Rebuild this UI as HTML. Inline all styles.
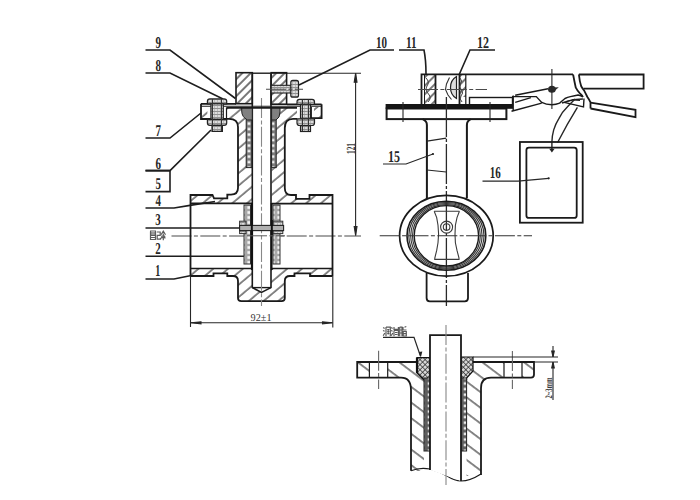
<!DOCTYPE html>
<html><head><meta charset="utf-8"><title>Valve drawing</title>
<style>
html,body{margin:0;padding:0;background:#fff;width:700px;height:500px;overflow:hidden}
svg{display:block}
text{font-family:"Liberation Serif",serif;font-weight:bold;fill:#262626;text-rendering:geometricPrecision}
</style></head><body>
<svg width="700" height="500" viewBox="0 0 700 500">
<defs>
 <!-- "/" hatch fine (gland blocks) -->
 <pattern id="h1" patternUnits="userSpaceOnUse" width="6" height="6" patternTransform="rotate(45)"><line x1="1" y1="0" x2="1" y2="6" stroke="#262626" stroke-width="1.25"/></pattern>
 <!-- "/" hatch wider (body) -->
 <pattern id="h2" patternUnits="userSpaceOnUse" width="9.5" height="9.5" patternTransform="rotate(50)"><line x1="1" y1="0" x2="1" y2="9.5" stroke="#262626" stroke-width="1.1"/></pattern>
 <!-- "\" hatch wide (detail view) -->
 <pattern id="hd" patternUnits="userSpaceOnUse" width="12.5" height="12.5" patternTransform="rotate(-53)"><line x1="1" y1="0" x2="1" y2="12.5" stroke="#262626" stroke-width="1.1"/></pattern>
 <pattern id="pk" patternUnits="userSpaceOnUse" width="6" height="5.5"><rect width="6" height="5.5" fill="#7a7a7a"/><rect x="1.6" y="1.3" width="2.8" height="2.6" fill="#f0f0f0"/></pattern>
 <pattern id="xh" patternUnits="userSpaceOnUse" width="3.6" height="3.6" patternTransform="rotate(45)"><rect width="3.6" height="3.6" fill="#d8d8d8"/><line x1="0" y1="0" x2="0" y2="3.6" stroke="#2a2a2a" stroke-width="1.4"/><line x1="0" y1="0" x2="3.6" y2="0" stroke="#2a2a2a" stroke-width="1.4"/></pattern>
 <pattern id="pk3" patternUnits="userSpaceOnUse" width="6" height="5"><rect width="6" height="5" fill="#a8a8a8"/><rect x="1.4" y="1.2" width="3.2" height="2.6" fill="#f4f4f4"/></pattern>
 <pattern id="pk2" patternUnits="userSpaceOnUse" width="6" height="5.6"><rect width="6" height="5.6" fill="#5e5e5e"/><rect x="1.7" y="1.4" width="2.6" height="2.6" fill="#eaeaea"/></pattern>
 <pattern id="bolt" patternUnits="userSpaceOnUse" width="3" height="3"><rect width="3" height="3" fill="#dcdcdc"/><line x1="0" y1="0.5" x2="3" y2="0.5" stroke="#707070" stroke-width="0.7"/><line x1="1.5" y1="0" x2="1.5" y2="3" stroke="#999" stroke-width="0.5"/></pattern>
</defs>

<!-- ================= LEFT VIEW: LABELS ================= -->
<g font-size="16.5">
 <text x="155.5" y="48.2" textLength="5.5" lengthAdjust="spacingAndGlyphs">9</text>
 <text x="155.5" y="71.4" textLength="5.5" lengthAdjust="spacingAndGlyphs">8</text>
 <text x="155.5" y="136.1" textLength="5.5" lengthAdjust="spacingAndGlyphs">7</text>
 <text x="155.5" y="168.8" textLength="5.5" lengthAdjust="spacingAndGlyphs">6</text>
 <text x="155.5" y="188.9" textLength="5.5" lengthAdjust="spacingAndGlyphs">5</text>
 <text x="155.5" y="205.8" textLength="5.5" lengthAdjust="spacingAndGlyphs">4</text>
 <text x="155.3" y="224.9" textLength="5.5" lengthAdjust="spacingAndGlyphs">3</text>
 <text x="155.3" y="253.8" textLength="5.5" lengthAdjust="spacingAndGlyphs">2</text>
 <text x="155.3" y="276.3" textLength="5" lengthAdjust="spacingAndGlyphs">1</text>
</g>
<!-- chinese-ish label -->
<g fill="none" stroke="#5c5c5c" stroke-width="1.2">
 <path d="M150 231H156M150.5 231.5V239.5H155.5V231.5M152 232V235.5M154 232V235.5M150.5 235.5H155.5M150.5 237.5H155.5"/>
 <path d="M156.8 232H160.2V235.3H157.2V239.2H160.5V237.8"/>
 <path d="M161 234.8L163.3 231.2L165.5 234.8M161.5 236H165M163.3 233.5V240.2M161.3 237.7H165.3M162 235.5L161.5 238.5M164.5 235.5L165 238.5"/>
</g>
<g fill="none" stroke-width="1.6" stroke="#1e1e1e">
 <path d="M145.5 50H170L235.5 98.5"/>
 <path d="M145.5 73H170L223 99"/>
 <path d="M145.5 138H170L201 113"/>
 <path d="M145.5 170.6H170L211 130"/>
 <path d="M145.5 170.6H170V191.6H145.5"/>
 <path d="M145.5 208H174L190 205.4L215 201.5"/>
 <path d="M145.5 228H241"/>
 <path d="M145.5 256.2H244"/>
 <path d="M145.5 279H174L190 275.7"/>
</g>
<path fill="none" stroke="#4a4a4a" stroke-width="1.1" stroke-dasharray="20 2.4 4 2.4" d="M171.5 236H361"/>

<!-- ================= LEFT VIEW: BODY ================= -->
<!-- hatched solid regions -->
<path fill="url(#h2)" stroke="none" d="M190.5 195H212.5L214 198.3H227.3V194.6H231Q238 194.6 238 188V127Q238 118.8 229 118.8H226.5V107.5H252.3V203.4H190.5Z"/>
<path fill="url(#h2)" stroke="none" d="M332.5 195H309.5V198.8H296V195H291Q284.8 195 284.8 188V128Q284.8 118.8 293 118.8H297V107.5H271.6V203.6H332.5Z"/>
<path fill="url(#h2)" stroke="none" d="M190.5 268.6H252.3V287.6L261.5 292.4L271 287.6V268.6H332.5V276H310V273.4H294.5V276H290Q284.8 276 284.8 281V298Q284.8 301.2 281.5 301.2H241.3Q238 301.2 238 298V281Q238 276 233 276H227.3V273.4H213.5V276H190.5Z"/>
<path fill="url(#h2)" stroke="none" d="M201.5 107H207.4V118.5H201.5ZM314 107H321V117.7H314Z"/>

<!-- outlines pipe/body -->
<g fill="none" stroke="#1a1a1a" stroke-width="1.8">
 <path d="M190.5 276V195H212.5L214 198.3H227.3V194.6H231Q238 194.6 238 188V127Q238 118.8 229 118.8H226.5"/>
 <path d="M332.5 276V195H309.5V198.8H296V195H291Q284.8 195 284.8 188V128Q284.8 118.8 293 118.8H297"/>
 <path d="M190.5 276H213.5V273.4H227.3V276H233Q238 276 238 281V298Q238 301.2 241.3 301.2H281.5Q284.8 301.2 284.8 298V281Q284.8 276 290 276H294.5V273.4H310V276H332.5"/>
 <path d="M190.5 203.4H252M271.6 203.6H332.5" stroke-width="1.7"/>
 <path d="M190.5 268.6H252M271.6 268.6H332.5" stroke-width="1.5"/>
</g>
<!-- extension + dimension lines -->
<g fill="none" stroke="#262626" stroke-width="1.1">
 <path d="M190.5 276V327M332.8 276V327.6"/>
 <path d="M191 322.8H332.5"/>
 <path d="M191 322.8l10 -1v2z M332.5 322.8l-10 -1v2z" fill="#222"/>
 <path d="M252 73.3H361"/>
 <path d="M355.6 73.3V235.5"/>
 <path d="M355.6 73.3l-1.4 9h2.8z M355.6 235.5l-1.4 -9h2.8z" fill="#222"/>
</g>
<text font-size="12.5" transform="translate(354.6,154) rotate(-90)" textLength="11" lengthAdjust="spacingAndGlyphs" style="fill:#3a3a3a">121</text>
<text x="250.6" y="321.4" font-size="10.5" textLength="21" lengthAdjust="spacingAndGlyphs" style="font-weight:normal;fill:#333">92±1</text>

<!-- stem -->
<path fill="#fff" stroke="#1a1a1a" d="M252.3 73.3V287.6L261.5 292.4L271 287.6V73.3" stroke-width="1.6"/>
<path d="M252.3 287.6H271" stroke="#1a1a1a" stroke-width="1.4"/>
<path fill="none" stroke-dasharray="20 2.4 4 2.4" d="M261.5 98V306" stroke="#888" stroke-width="1.1"/>

<path d="M252 73.3H271.5" stroke="#2a2a2a" stroke-width="1.3"/>
<!-- packing columns in neck -->
<rect fill="url(#pk)" stroke="#222" stroke-width="1" x="246.2" y="116" width="5.6" height="51.6"/>
<rect fill="url(#pk)" stroke="#222" stroke-width="1" x="271.6" y="116" width="4.6" height="51.6"/>
<!-- seals item 8 -->
<path d="M241.7 107.5H252.3V120H247.5Q241.7 117 241.7 111Z" fill="#808080" stroke="#222" stroke-width="1"/>
<path d="M271.6 107.5H280V112Q280 118 276 120H271.6Z" fill="#808080" stroke="#222" stroke-width="1"/>
<!-- disc seat columns in bore -->
<rect fill="url(#pk3)" stroke="#333" stroke-width="1" x="244" y="205" width="6.5" height="59"/>
<rect fill="url(#pk3)" stroke="#333" stroke-width="1" x="273" y="205" width="7" height="59"/>
<path d="M251.8 203V270M271.6 203V270" stroke="#111" stroke-width="1.8"/>

<!-- pin item 3 -->
<rect x="239.6" y="221.2" width="6.4" height="12.4" fill="url(#bolt)" stroke="#333" stroke-width="1"/>
<rect x="273.2" y="221.2" width="9.6" height="12.4" fill="url(#bolt)" stroke="#333" stroke-width="1"/>
<rect x="239.6" y="225.4" width="44" height="5.2" fill="#b0b0b0" stroke="#222" stroke-width="1.1"/>
<path d="M251.8 220V236M271.8 220V236" stroke="#111" stroke-width="2"/>
<path fill="none" stroke="#5a5a5a" stroke-width="1" stroke-dasharray="20 2.4 4 2.4" stroke-dashoffset="-2" d="M245 235.8H285"/>

<!-- flange / gland plate -->
<g fill="none" stroke="#1a1a1a" stroke-width="1.8">
 <path d="M201 103.8H236M287 104.3H321.6" />
 <path d="M201 103.8V119H226.5M321.6 104.3V118.2H311V107" />
 <path d="M226.5 107.5V119" stroke-width="1.2"/>
 <path d="M201 106.2H321.6" stroke-width="1.1"/>
 <path d="M226.5 107.8H297" stroke-width="1.7"/>
</g>
<!-- gland blocks -->
<rect x="236" y="72.7" width="16.3" height="31" fill="url(#h1)" stroke="#1a1a1a" stroke-width="1.6"/>
<rect x="271.2" y="72.7" width="15.4" height="31.5" fill="url(#h1)" stroke="#1a1a1a" stroke-width="1.6"/>
<!-- screw item 10 -->
<rect x="271.2" y="85.3" width="20.3" height="7.7" fill="url(#bolt)" stroke="#222" stroke-width="1.1"/>
<rect x="290.8" y="80.4" width="7.7" height="16.8" rx="2" fill="url(#bolt)" stroke="#222" stroke-width="1.2"/>
<path fill="none" stroke="#4a4a4a" stroke-width="1.1" stroke-dasharray="20 2.4 4 2.4" d="M266 89.2H303"/>

<!-- bolts -->
<g stroke="#222" stroke-width="1.2" fill="url(#bolt)">
 <path d="M207.4 103.8V101.2Q207.4 98.9 210 98.9H224Q226.7 98.9 226.7 101.2V103.8Z"/>
 <rect x="210.9" y="103.8" width="12.4" height="15.6"/>
 <path d="M207.4 119.4H226.7V123Q226.7 125.4 224 125.4H210Q207.4 125.4 207.4 123Z"/>
 <rect x="212" y="125.4" width="10.4" height="6"/>
 <path d="M297 104.3V101.8Q297 99.3 299.5 99.3H312Q314.5 99.3 314.5 101.8V104.3Z"/>
 <rect x="300.5" y="104.3" width="10" height="14.5"/>
 <path d="M297 118.8H314.5V123Q314.5 125.5 312 125.5H299.5Q297 125.5 297 123Z"/>
 <rect x="300.5" y="125.5" width="10" height="6"/>
</g>
<path d="M212.5 99V131M221.5 99V131M302.5 99.5V131M308.5 99.5V131" stroke="#333" stroke-width="1"/>

<!-- label 10 -->
<text x="376" y="48.4" font-size="16.5" textLength="11" lengthAdjust="spacingAndGlyphs">10</text>
<path fill="none" stroke-width="1.6" stroke="#1e1e1e" d="M394 50H370L299 85"/>

<!-- ================= RIGHT VIEW ================= -->
<text x="406" y="48.4" font-size="16.5" textLength="10.5" lengthAdjust="spacingAndGlyphs">11</text>
<text x="477" y="48.4" font-size="16.5" textLength="12" lengthAdjust="spacingAndGlyphs">12</text>
<g fill="none" stroke-width="1.6" stroke="#1e1e1e">
 <path d="M399 50H424Q426 60 426 74"/>
 <path d="M495 50H470L459 75"/>
</g>
<!-- top housing -->
<path fill="url(#h1)" stroke="none" d="M425 75H435V104.5H425Z"/>
<path fill="url(#h1)" stroke="none" d="M460 75H466V97H460Z"/>
<g fill="none" stroke="#1a1a1a" stroke-width="1.8">
 <path d="M421.5 105V74.4H573"/>
 <path d="M435.5 74.4V105M459.5 74.4V105"/>
 <path d="M424.5 74.4V105" stroke-width="1"/>
</g>
<path d="M456.5 76.5Q450.5 80 450.5 87.5Q450.5 95 456.5 98.5Z" fill="#dedede" stroke="#222" stroke-width="1.2"/>
<path d="M449.5 77.5L446.5 84L445.5 89.5L448 95L451.5 99.5" fill="none" stroke="#333" stroke-width="1.1"/>
<path d="M465.8 74.4V105" stroke="#1a1a1a" stroke-width="1.2"/>
<path d="M460 78Q463 81 460.5 84Q458.5 87 461.5 90Q464 93 461 96Q459 99 462 102" fill="none" stroke="#444" stroke-width="1"/>
<path d="M426 78Q430 82 427 86Q424.5 90 428.5 94Q432 98 428 102" fill="none" stroke="#444" stroke-width="1"/>
<path fill="none" stroke="#4a4a4a" stroke-width="1.1" stroke-dasharray="20 2.4 4 2.4" d="M418 89.5H487"/>
<!-- small box on plate -->
<rect x="469.5" y="97.5" width="43" height="7.5" fill="#fff" stroke="#1a1a1a" stroke-width="1.4"/>
<!-- plate -->
<rect x="386.6" y="108.5" width="119.8" height="10.6" fill="#fff" stroke="#1a1a1a" stroke-width="2"/>
<rect x="385.6" y="104" width="127.4" height="4.8" fill="#151515"/>
<path fill="none" stroke="#262626" stroke-width="1.1" d="M403 102V122M490 102V122"/>
<path d="M446.4 97V306" fill="none" stroke="#2a2a2a" stroke-width="1.3" stroke-dasharray="40 2 3 2"/>

<!-- neck item 15 -->
<g fill="none" stroke="#1a1a1a" stroke-width="2">
 <path d="M422.7 119.2Q426.9 121 426.9 125V198"/>
 <path d="M470.7 119.2Q466.9 121 466.9 125V198"/>
 <path d="M426.6 273V298Q426.6 301.3 429.8 301.3H464.8Q468 301.3 468 298V273" stroke-width="1.8"/>
</g>
<g fill="none" stroke="#262626" stroke-width="1.1">
 <path d="M427 141.1L446.3 138.1M427 170L446.3 172"/>
</g>
<text x="388" y="162.2" font-size="16.5" textLength="12" lengthAdjust="spacingAndGlyphs">15</text>
<path fill="none" stroke="#262626" stroke-width="1.2" d="M383 164H406L433 154"/>
<circle cx="433" cy="154" r="1.1" fill="#222"/>

<!-- disc body -->
<g fill="none" stroke="#1a1a1a">
 <ellipse cx="446.4" cy="235.8" rx="46.8" ry="40.4" stroke-width="1.7"/>
 <ellipse cx="446.4" cy="235.8" rx="39.4" ry="34.4" stroke-width="1.6"/>
 <ellipse cx="446.4" cy="235.8" rx="37.6" ry="33.3" stroke-width="1.1" stroke="#333"/>
 <ellipse cx="446.4" cy="235.8" rx="35.7" ry="32.3" stroke-width="1.1" stroke="#333"/>
 <ellipse cx="446.4" cy="235.8" rx="33.9" ry="31.2" stroke-width="1.1" stroke="#333"/>
 <ellipse cx="446.4" cy="235.8" rx="32.2" ry="30.2" stroke-width="1.4"/>
</g>
<g fill="none" stroke="#3a3a3a" stroke-width="1.1">
 <path d="M434.2 211.3H459.4M434.8 259.4H459"/>
 <path d="M434.2 211.3L436.7 217.6L438 225.2L438.6 234L438 242.8L436.7 250.4L434.8 258V260"/>
 <path d="M459.4 211.3L457 217.6L455.4 225.2L455 234L455.4 242.8L457 250.4L459 258V260"/>
 <circle cx="446.6" cy="227.1" r="6"/>
 <circle cx="446.6" cy="227.1" r="3.3"/>
</g>
<path fill="none" stroke-dasharray="20 2.4 4 2.4" d="M379.7 235.8H532" stroke="#333" stroke-width="1.1"/>

<!-- handle -->
<g fill="none" stroke="#1a1a1a" stroke-width="1.8">
 <path d="M573.1 74.5Q574.5 82 575.8 87.7Q577.5 91 579.7 93.1Q582 95 582.8 97"/>
 <path d="M578.9 74.5H643.6V88.7H583.5"/>
 <path d="M578.9 74.5Q579.5 81 581.2 86.2Q582.5 88.5 584.3 90.8Q586 94 587.4 97Q589.5 100 590.5 102.4V108.5"/>
 <path d="M590.5 102.6L635.5 109.8L635.5 117.2L590.5 108.5"/>
</g>
<g fill="none" stroke="#1a1a1a" stroke-width="1.4">
 <path d="M515.2 95.3L548 88.8"/>
 <path d="M512 96.6H536.3L541.7 102.4Q546 104.7 551.9 104.7Q556 104.5 559.6 103.1Q562 101 565 98.5Q567.5 97.3 570.4 96.6Q575 95.5 578.1 95Q581 95.5 583 97"/>
 <path d="M515.2 102.4L530.9 97.6"/>
 <path d="M511.5 111.3L541.7 103.1"/>
 <path d="M513.2 95.6V111"/>
 <path d="M564.2 102.4L583.5 107L584 98.5"/>
 <path d="M562 103L573 99.6L582.9 99"/>
 <path d="M566 101.5Q574 99 580 100.5" stroke-width="1"/>
</g>
<ellipse cx="551.9" cy="89.3" rx="3.9" ry="3.5" fill="#2a2a2a"/>
<path d="M554 87.5L558.8 87.3L555 90.5Z" fill="#2a2a2a"/>
<path fill="none" stroke="#262626" stroke-width="1.1" d="M551.9 69V109"/>
<g fill="none" stroke="#262626" stroke-width="1.4">
 <path d="M575.2 99.1Q571 103 567.5 106.8Q562 112 558.7 118.9Q555.5 124 553.7 129.9Q552 136 551.9 142V149.6"/>
 <path d="M577.4 107.3Q567 124 557.6 142.5"/>
</g>

<!-- tag 16 -->
<rect x="519.9" y="142" width="62.8" height="80.7" fill="none" stroke="#1a1a1a" stroke-width="1.8"/>
<rect x="526.4" y="147.6" width="50.3" height="70.3" rx="2.5" fill="none" stroke="#1a1a1a" stroke-width="1.8"/>
<path d="M549.2 148.8L551.9 152.5L554.6 148.8Z" fill="#222"/>
<text x="489.7" y="178.4" font-size="16.5" textLength="11" lengthAdjust="spacingAndGlyphs">16</text>
<path fill="none" stroke="#262626" stroke-width="1.2" d="M482.5 181.2H518L548.7 178.3"/>
<circle cx="548.7" cy="178.3" r="1.1" fill="#222"/>

<!-- ================= DETAIL VIEW ================= -->
<g fill="none" stroke="#5a5a5a" stroke-width="1.2">
 <path d="M383.2 327.5L384.6 328.5M383 330.5L384.6 331.3M383.2 335.8L384.8 333M386 327V336.3M386 327.2H390.3V336.3M387.2 329.5H389.3M387.2 331.5H389.3M387.2 333.5H389.3M388.2 329.5V334.5"/>
 <path d="M391.2 327.5L392.6 328.5M391 330.5L392.6 331.3M391.2 335.8L392.8 333M394 327V329.3H398.4V327M394 330.5H398.4V336.3M394 330.5V336.3M395 332.5H397.5M395 334.5H397.5"/>
 <path d="M399.7 327V336.2M399.7 327.2H402V336.2M399.7 330H402M399.7 333H402M403 327V330H406.5M404.5 327.3L406.3 326.5M403.2 331.5H406.3V336H403.2ZM403.2 333.7H406.3"/>
</g>
<path fill="none" stroke="#262626" stroke-width="1.2" d="M383 337.3H414L420.4 356"/>
<path d="M418.8 352L420.8 357.5L422.3 351.5Z" fill="#222"/>
<!-- flange hatch areas -->
<path fill="url(#hd)" stroke="none" d="M357.2 362H369.4V377.6H357.2Z"/>
<path fill="url(#hd)" stroke="none" d="M387.7 362H424V471H411V390Q411 377.6 400 377.6H387.7Z"/>
<path fill="url(#hd)" stroke="none" d="M466.6 362H504V377.6H491Q481 377.6 481 388V476H466.6Z"/>
<path fill="url(#hd)" stroke="none" d="M522 362H534V377.6H522Z"/>
<g fill="none" stroke="#1a1a1a" stroke-width="1.8">
 <path d="M416.4 362H357.2V377.6H401Q411 377.6 411 390V470.8"/>
 <path d="M473 362H534V374.5Q534 377.6 531 377.6H491Q481 377.6 481 388V475"/>
 <path d="M369.4 362V377.6M387.7 362V377.6M504 362V377.6M522 362V377.6" stroke-width="1.2"/>
 <path d="M411 470.8Q420 467 430 469Q440 472 447 476Q455 481 461 481Q470 481 481 474" stroke-width="1.2"/>
</g>
<!-- packing cross-hatched top -->
<path d="M417 357.6H430V380H424L417 373Z" fill="url(#xh)" stroke="#111" stroke-width="1.2"/>
<path d="M461 357H473V371L466.6 378V380H461Z" fill="url(#xh)" stroke="#111" stroke-width="1.2"/>
<path d="M417 357.6V373" stroke="#111" stroke-width="2.2"/>
<rect x="424" y="378" width="6.4" height="73" fill="url(#pk2)" stroke="#222" stroke-width="1"/>
<rect x="460.6" y="378" width="6" height="73" fill="url(#pk2)" stroke="#222" stroke-width="1"/>
<!-- stem -->
<path d="M430 470V335.2H461V481" fill="#fff" stroke="#1a1a1a" stroke-width="1.8"/>
<path fill="none" stroke-width="1.1" stroke-dasharray="20 2.4 4 2.4" d="M446 325V485" stroke="#888"/>
<path fill="none" stroke-width="1.1" stroke-dasharray="20 2.4 4 2.4" d="M378.6 350.7V389M512.4 351V389" stroke="#666"/>
<!-- dimension -->
<g fill="none" stroke="#262626" stroke-width="1.1">
 <path d="M473 357H558M534 362H558"/>
 <path d="M553 346V357M553 362V400"/>
 <path d="M553 357l-1.3 -6h2.6z M553 362l-1.3 6h2.6z" fill="#222"/>
</g>
<text font-size="10" transform="translate(551.8,398.5) rotate(-90)" textLength="21" lengthAdjust="spacingAndGlyphs" style="fill:#3a3a3a">2~3mm</text>
</svg>
</body></html>
